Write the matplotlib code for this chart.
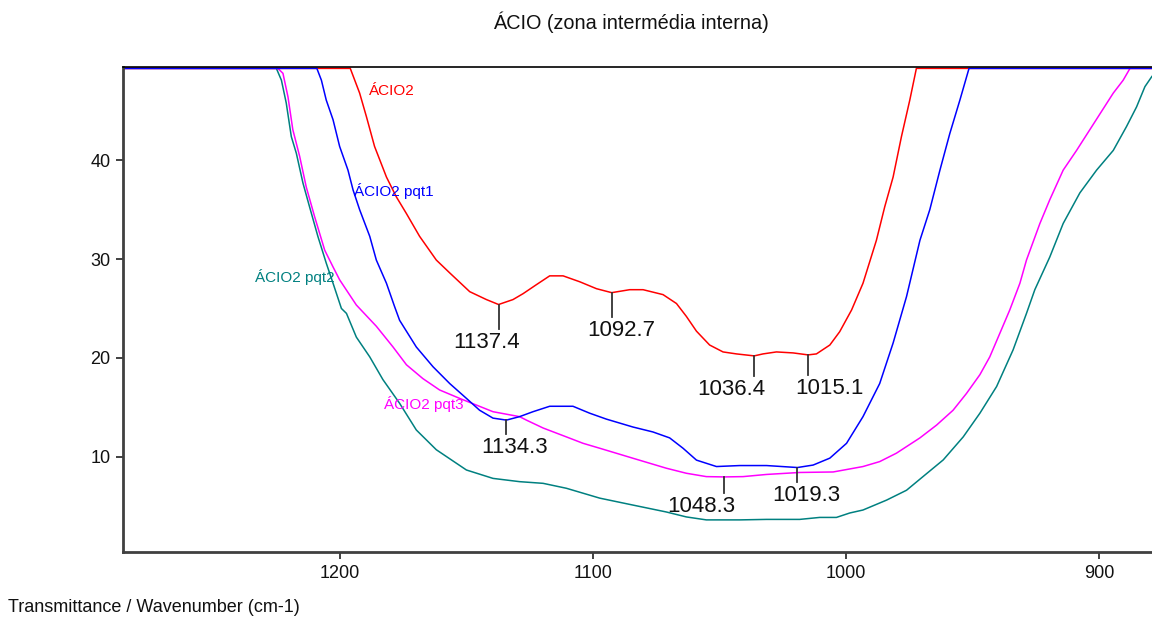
import matplotlib
matplotlib.use("Agg")
import matplotlib.pyplot as plt
import numpy as np

plt.rcParams['font.family'] = ['Liberation Sans', 'DejaVu Sans']

# ---- spectra: wavenumber (cm-1) / transmittance ----
wn_acio2 = [1290, 1196.0, 1192.3, 1189.6, 1186.4, 1181.7, 1177.8, 1173.8, 1168.6, 1162.0,
            1156.7, 1148.8, 1142.2, 1137.4, 1131.7, 1127.7, 1122.5, 1117.2, 1111.9, 1105.3,
            1098.7, 1092.7, 1085.6, 1080.3, 1072.4, 1067.1, 1063.2, 1059.2, 1054.0, 1048.7,
            1043.4, 1036.4, 1032.9, 1027.6, 1021.0, 1015.1, 1011.8, 1006.5, 1002.6, 997.9,
            993.4, 988.1, 984.8, 981.5, 978.2, 974.9, 972.3, 875]
t_acio2 = [49.3, 49.3, 46.8, 44.4, 41.4, 38.3, 36.3, 34.6, 32.3, 29.9,
           28.6, 26.7, 25.9, 25.4, 25.9, 26.5, 27.4, 28.3, 28.3, 27.7,
           27.0, 26.6, 26.9, 26.9, 26.4, 25.5, 24.2, 22.7, 21.3, 20.6,
           20.4, 20.2, 20.4, 20.6, 20.5, 20.3, 20.4, 21.3, 22.65, 24.85,
           27.55, 31.9, 35.3, 38.3, 42.4, 46.1, 49.3, 49.3]

wn_pqt1 = [1290, 1209.2, 1207.4, 1205.5, 1202.8, 1200.2, 1196.9, 1194.9, 1192.3, 1188.3,
           1185.7, 1181.7, 1178.5, 1176.5, 1169.9, 1163.3, 1156.7, 1150.1, 1144.9, 1139.6,
           1134.3, 1129.1, 1123.8, 1117.2, 1108.0, 1101.4, 1094.8, 1084.3, 1076.4, 1069.8,
           1064.5, 1059.2, 1051.3, 1042.1, 1031.5, 1019.3, 1013.1, 1006.5, 999.9, 993.4,
           986.8, 981.5, 976.2, 970.9, 967.0, 963.0, 959.1, 955.1, 951.5, 875]
t_pqt1 = [49.3, 49.3, 48.1, 46.1, 44.1, 41.4, 39.0, 37.0, 35.0, 32.3,
          29.9, 27.55, 25.2, 23.8, 21.1, 19.1, 17.4, 15.9, 14.7, 13.9,
          13.7, 14.05, 14.55, 15.1, 15.1, 14.4, 13.8, 13.0, 12.5, 11.9,
          10.85, 9.65, 9.0, 9.1, 9.1, 8.9, 9.15, 9.85, 11.35, 14.05,
          17.4, 21.5, 26.2, 31.9, 35.0, 39.0, 42.7, 46.1, 49.3, 49.3]

wn_pqt2 = [1290, 1225.2, 1223.2, 1221.3, 1219.3, 1217.3, 1214.7, 1212.1, 1208.8, 1205.5,
           1202.8, 1199.5, 1197.5, 1193.6, 1188.3, 1183.1, 1176.5, 1169.9, 1162.0, 1150.1,
           1139.6, 1129.1, 1119.8, 1110.6, 1097.4, 1084.3, 1071.1, 1063.2, 1055.3, 1042.1,
           1031.5, 1018.4, 1010.5, 1003.9, 998.6, 993.4, 984.1, 976.2, 969.6, 961.7,
           953.8, 947.2, 940.6, 934.1, 928.8, 925.5, 919.6, 914.3, 907.7, 901.1,
           894.5, 889.3, 885.3, 882.0, 879.2, 875]
t_pqt2 = [49.3, 49.3, 48.1, 45.8, 42.4, 40.7, 37.7, 35.3, 32.3, 29.6,
          27.55, 25.0, 24.5, 22.1, 20.1, 17.8, 15.4, 12.7, 10.7, 8.65,
          7.8, 7.47, 7.3, 6.8, 5.8, 5.1, 4.4, 3.9, 3.6, 3.6,
          3.65, 3.65, 3.85, 3.85, 4.3, 4.6, 5.6, 6.6, 8.0, 9.67,
          12.0, 14.4, 17.1, 20.8, 24.5, 26.9, 30.2, 33.6, 36.7, 39.0,
          41.0, 43.4, 45.4, 47.45, 48.5, 49.3]

wn_pqt3 = [1290, 1224.6, 1222.6, 1220.6, 1218.7, 1216.0, 1213.4, 1210.1, 1206.1, 1202.8,
           1200.2, 1193.6, 1185.7, 1179.1, 1173.8, 1167.3, 1160.7, 1152.8, 1139.6, 1129.1,
           1126.4, 1119.8, 1110.6, 1104.0, 1097.4, 1084.3, 1071.1, 1063.2, 1055.3, 1048.3,
           1040.8, 1031.5, 1018.4, 1005.2, 993.4, 986.8, 980.2, 970.9, 964.3, 957.8,
           952.5, 947.2, 943.3, 939.3, 935.4, 931.4, 928.8, 923.5, 919.6, 914.3,
           909.0, 902.5, 894.5, 890.6, 887.9, 875]
t_pqt3 = [49.3, 49.3, 48.8, 46.4, 43.1, 40.4, 37.3, 34.3, 30.9, 29.2,
          27.9, 25.35, 23.2, 21.1, 19.3, 17.9, 16.75, 15.9, 14.55, 14.05,
          13.7, 12.9, 12.0, 11.35, 10.85, 9.84, 8.83, 8.32, 7.98, 7.95,
          7.98, 8.2, 8.4, 8.45, 9.0, 9.5, 10.35, 11.9, 13.2, 14.7,
          16.4, 18.3, 20.1, 22.5, 24.85, 27.55, 29.9, 33.6, 36.0, 39.0,
          41.0, 43.6, 46.8, 48.1, 49.3, 49.3]

series_names = ['ÁCIO2', 'ÁCIO2 pqt1', 'ÁCIO2 pqt2', 'ÁCIO2 pqt3']
series_colors = ['#ff0000', '#0000ff', '#008080', '#ff00ff']
series_wn = [wn_acio2, wn_pqt1, wn_pqt2, wn_pqt3]
series_t = [t_acio2, t_pqt1, t_pqt2, t_pqt3]

# curve-name labels (wavenumber, transmittance of the label's left edge)
name_pos = [(1188.7, 47.0), (1194.5, 36.9), (1233.8, 28.2), (1182.8, 15.3)]

# marked peaks: series index and wavenumber
peaks_series = [0, 0, 0, 0, 1, 3, 1]
peaks_wn = [1137.4, 1092.7, 1036.4, 1015.1, 1134.3, 1048.3, 1019.3]
# marker tick length and label shift (pixels)
peak_tick_px = [24, 24, 20, 20, 14, 16, 14]
peak_label_dx = [-45, -24, -57, -13, -25, -57, -25]

title = 'ÁCIO (zona intermédia interna)'
axis_label = 'Transmittance / Wavenumber (cm-1)'
x_ticks = [1200, 1100, 1000, 900]
y_ticks = [10, 20, 30, 40]

fig = plt.figure(figsize=(11.52, 6.19), dpi=100)
ax = fig.add_axes([123 / 1152, 1 - 552 / 619, 1 - 123 / 1152, (552 - 67) / 619])

ax.set_xlim(1285.8, 879.2)
ax.set_ylim(0.35, 49.44)

for i in [2, 3, 0, 1]:
    ax.plot(series_wn[i], series_t[i], color=series_colors[i], lw=1.1,
            solid_joinstyle='round')

for (x, y), name, col in zip(name_pos, series_names, series_colors):
    ax.text(x, y, name, color=col, fontsize=11, ha='left', va='center')

px_per_unit = (552 - 67) / (49.44 - 0.35)
for s, w, L, dx in zip(peaks_series, peaks_wn, peak_tick_px, peak_label_dx):
    yv = float(np.interp(w, series_wn[s][::-1], series_t[s][::-1]))
    y_end = yv - L / px_per_unit
    ax.plot([w, w], [yv, y_end], color='#333333', lw=1.3)
    ax.annotate(f'{w:.1f}', xy=(w, y_end), xytext=(dx, -3),
                textcoords='offset pixels', fontsize=16, ha='left', va='top',
                color='#111111')

ax.set_xticks(x_ticks)
ax.set_yticks(y_ticks)
ax.tick_params(axis='both', direction='out', length=5, width=1.4, color='#404040',
               labelsize=13, labelcolor='#111111', pad=4)

for side in ['left', 'bottom']:
    ax.spines[side].set_color('#404040')
    ax.spines[side].set_linewidth(2.0)
ax.spines['right'].set_visible(False)
ax.spines['top'].set_color('black')
ax.spines['top'].set_linewidth(1.2)

fig.text(630.7 / 1152, 1 - 22 / 619, title, fontsize=14.3, ha='center', va='center',
         color='#111111')
fig.text(8 / 1152, 1 - 607 / 619, axis_label, fontsize=13, ha='left', va='center',
         color='#111111')

fig.savefig('out.png', dpi=100)
